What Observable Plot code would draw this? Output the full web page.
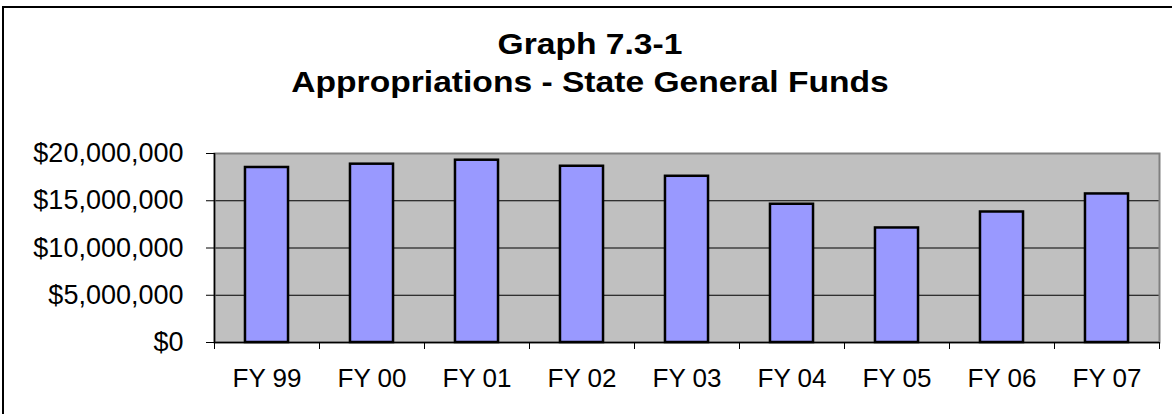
<!DOCTYPE html>
<html>
<head>
<meta charset="utf-8">
<script src="https://cdn.jsdelivr.net/npm/d3@7"></script>
<script src="https://cdn.jsdelivr.net/npm/@observablehq/plot@0.6"></script>
<style>
  html, body { margin: 0; padding: 0; background: #fff; }
  #wrap { position: relative; width: 1172px; height: 414px; overflow: hidden; background: #fff; }
  #border { position: absolute; left: 2px; top: 6px; width: 1400px; height: 600px;
            border-left: 2px solid #000; border-top: 2px solid #000; }
  #title { position: absolute; left: 4px; top: 25px; width: 1172px; text-align: center;
           font-family: "Liberation Sans", Arial, sans-serif; font-weight: bold; font-size: 30px;
           line-height: 38px; color: #000; transform: scaleX(1.12); transform-origin: 586px 0; }
  #chart { position: absolute; left: 0; top: 110px; }
</style>
</head>
<body>
<div id="wrap">
  <div id="border"></div>
  <div id="title">Graph 7.3-1<br>Appropriations - State General Funds</div>
  <div id="chart"></div>
</div>
<script>
const categories = ["FY 99", "FY 00", "FY 01", "FY 02", "FY 03", "FY 04", "FY 05", "FY 06", "FY 07"];
const values = [18520000, 18870000, 19290000, 18650000, 17590000, 14630000, 12120000, 13810000, 15720000];
const yTicks = [0, 5000000, 10000000, 15000000, 20000000];

const data = categories.map((c, i) => ({category: c, index: i, value: values[i]}));
const n = categories.length;
const barHalf = 0.205;

const chart = Plot.plot({
  width: 1172,
  height: 304,
  marginTop: 43,
  marginBottom: 72,
  marginLeft: 214,
  marginRight: 13,
  x: {type: "linear", domain: [0, n], label: null},
  y: {domain: [0, 20000000], label: null},
  style: {fontFamily: "'Liberation Sans', Arial, sans-serif", fontSize: "26px", color: "#000", background: "transparent", overflow: "visible"},
  marks: [
    Plot.frame({fill: "#c0c0c0"}),
    Plot.ruleY(yTicks.filter(t => t > 0 && t < 20000000), {stroke: "#000", strokeWidth: 1}),
    Plot.frame({stroke: "#808080", strokeWidth: 2}),
    Plot.rect(data, {
      x1: d => d.index + 0.5 - barHalf,
      x2: d => d.index + 0.5 + barHalf,
      y1: 0,
      y2: "value",
      fill: "#9999ff",
      stroke: "#000",
      strokeWidth: 2.5
    }),
    Plot.ruleX([0], {stroke: "#000", strokeWidth: 1.5}),
    Plot.ruleY([0], {stroke: "#000", strokeWidth: 1.5}),
    Plot.axisY({ticks: yTicks, tickFormat: d3.format("$,"), tickSize: 8, tickPadding: 23, fontSize: 27, stroke: "#000", label: null}),
    Plot.axisX({ticks: d3.range(n + 1), tickFormat: () => "", tickSize: 7, stroke: "#000", label: null}),
    Plot.axisX({ticks: categories.map((c, i) => i + 0.5), tickFormat: v => categories[Math.floor(v)], tickSize: 0, tickPadding: 26, fontSize: 26, label: null})
  ]
});
document.getElementById("chart").appendChild(chart);
</script>
</body>
</html>
